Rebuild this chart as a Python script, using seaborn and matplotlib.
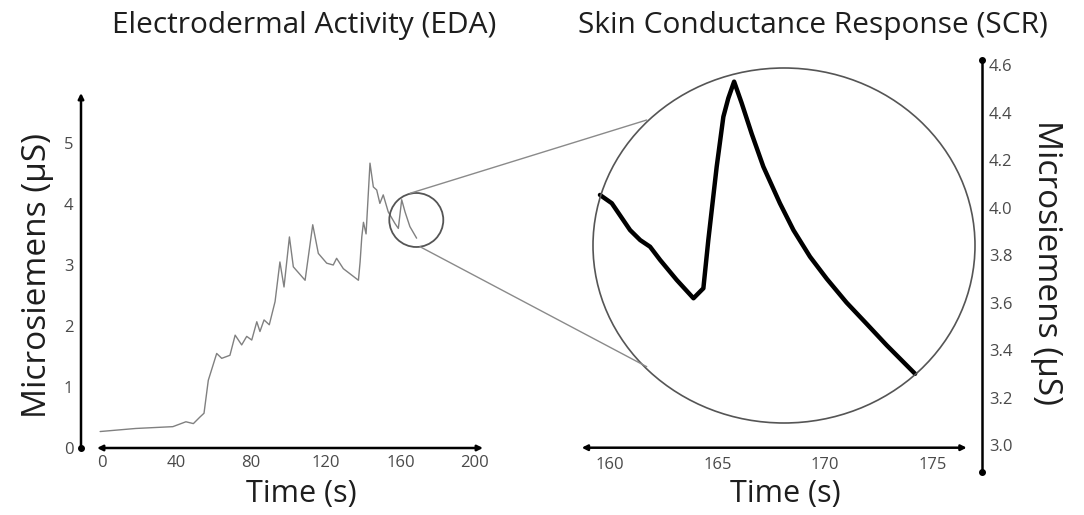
import matplotlib
matplotlib.use("Agg")
import matplotlib.pyplot as plt
import seaborn as sns
import pandas as pd
from matplotlib.patches import Ellipse
from matplotlib.lines import Line2D

# ---------------- data ----------------
eda_time = [-1, 18, 38, 45, 49, 52.6, 54.7, 57, 61.5, 64.2, 68.6, 71.4, 74.9, 77.6,
            80.3, 83, 84.7, 86.9, 89.7, 92.8, 95.4, 97.6, 100.5, 102.6, 108.9, 113,
            116, 120.5, 124, 125.8, 129.4, 137.5, 138.4, 139.3, 140.2, 141.6, 143.7,
            145.5, 147.3, 149, 150.8, 153.5, 157.1, 158.9, 160.7, 162.5, 165.1, 168.7]
eda_value = [0.27, 0.32, 0.35, 0.43, 0.40, 0.51, 0.57, 1.11, 1.55, 1.47, 1.52, 1.85,
             1.69, 1.83, 1.77, 2.07, 1.91, 2.10, 2.02, 2.40, 3.05, 2.64, 3.46, 2.97,
             2.75, 3.66, 3.19, 3.03, 3.00, 3.11, 2.94, 2.75, 3.05, 3.46, 3.70, 3.51,
             4.67, 4.28, 4.23, 4.01, 4.15, 3.87, 3.68, 3.60, 4.07, 3.87, 3.63, 3.44]

scr_time = [159.53, 160.08, 160.93, 161.4, 161.86, 162.33, 163.1, 163.88, 164.34,
            164.57, 164.96, 165.27, 165.5, 165.77, 166.12, 166.59, 167.13, 167.9,
            168.53, 169.3, 170.08, 171.0, 171.94, 172.87, 174.19]
scr_value = [4.053, 4.018, 3.905, 3.863, 3.835, 3.779, 3.695, 3.618, 3.66, 3.863,
             4.172, 4.382, 4.46, 4.53, 4.44, 4.31, 4.172, 4.018, 3.905, 3.793, 3.70,
             3.60, 3.51, 3.42, 3.30]

eda_xticks = [0, 40, 80, 120, 160, 200]
eda_yticks = [0, 1, 2, 3, 4, 5]
scr_xticks = [160, 165, 170, 175]
scr_yticks = [3.0, 3.2, 3.4, 3.6, 3.8, 4.0, 4.2, 4.4, 4.6]

titles = ["Electrodermal Activity (EDA)", "Skin Conductance Response (SCR)"]
xlabel = "Time (s)"
ylabel = "Microsiemens (µS)"

# ---------------- style ----------------
sns.set_theme(style="white")
plt.rcParams["font.family"] = ["Open Sans", "DejaVu Sans"]

W, H = 1084, 515
fig = plt.figure(figsize=(W / 100, H / 100), dpi=100)


def box(x0, y0, x1, y1):
    return [x0 / W, 1 - y1 / H, (x1 - x0) / W, (y1 - y0) / H]


def fx(x):
    return x / W


def fy(y):
    return 1 - y / H


TEXT = "#1e1e1e"
TICK = "#4a4a4a"
TICK_FS = 12

# ---------------- left panel ----------------
ax1 = fig.add_axes(box(97, 93, 483, 448))
df1 = pd.DataFrame({"t": eda_time, "v": eda_value})
sns.lineplot(data=df1, x="t", y="v", ax=ax1, color="#808080", lw=1.0,
             estimator=None, sort=False)
ax1.set_xlim(-2.68, 204.3)
ax1.set_ylim(0, 5.82)
ax1.set_xticks(eda_xticks)
ax1.set_yticks(eda_yticks)
ax1.tick_params(axis="x", length=0, pad=5, labelsize=TICK_FS, labelcolor=TICK)
ax1.tick_params(axis="y", length=0, pad=17, labelsize=TICK_FS, labelcolor=TICK)
ax1.set_xlabel("")
ax1.set_ylabel("")
for s in ax1.spines.values():
    s.set_visible(False)

# axis lines with arrows
ax1.annotate("", xy=(1, 0), xytext=(0, 0), xycoords="axes fraction",
             arrowprops=dict(arrowstyle="<|-|>", lw=1.8, color="black",
                             mutation_scale=8, shrinkA=0, shrinkB=0),
             annotation_clip=False)
yx1 = (81 - 97) / 386
ax1.annotate("", xy=(yx1, 1), xytext=(yx1, 0), xycoords="axes fraction",
             arrowprops=dict(arrowstyle="-|>", lw=1.8, color="black",
                             mutation_scale=8, shrinkA=0, shrinkB=0),
             annotation_clip=False)
ax1.plot([yx1], [0], marker="o", ms=4, color="black", transform=ax1.transAxes,
         clip_on=False)

# ---------------- right panel ----------------
ax2 = fig.add_axes(box(581.7, 60, 966.7, 447.7))
df2 = pd.DataFrame({"t": scr_time, "v": scr_value})
sns.lineplot(data=df2, x="t", y="v", ax=ax2, color="black", lw=3.2,
             estimator=None, sort=False)
ax2.set_xlim(158.68, 176.59)
ax2.set_ylim(2.989, 4.621)
ax2.set_xticks(scr_xticks)
ax2.set_yticks(scr_yticks)
ax2.set_yticklabels([f"{v:.1f}" for v in scr_yticks])
ax2.yaxis.tick_right()
ax2.tick_params(axis="x", length=0, pad=7, labelsize=TICK_FS, labelcolor=TICK)
ax2.tick_params(axis="y", length=0, pad=16, labelsize=TICK_FS, labelcolor=TICK)
ax2.set_xlabel("")
ax2.set_ylabel("")
for s in ax2.spines.values():
    s.set_visible(False)

ax2.annotate("", xy=(1, 0), xytext=(0, 0), xycoords="axes fraction",
             arrowprops=dict(arrowstyle="<|-|>", lw=1.8, color="black",
                             mutation_scale=8, shrinkA=0, shrinkB=0),
             annotation_clip=False)
yx2 = (981.7 - 581.7) / 385
ybot2 = (447.7 - 471.7) / 387.7
ax2.plot([yx2, yx2], [ybot2, 1], color="black", lw=1.8, transform=ax2.transAxes,
         clip_on=False, solid_capstyle="butt")
ax2.plot([yx2, yx2], [ybot2, 1], marker="o", ms=4, lw=0, color="black",
         transform=ax2.transAxes, clip_on=False)

# ---------------- magnifier decorations ----------------
fig.add_artist(Ellipse((fx(784), fy(245.5)), 382 / W, 355 / H, fill=False,
                       ec="#555555", lw=1.2, transform=fig.transFigure))
fig.add_artist(Ellipse((fx(416.3), fy(220)), 54 / W, 54 / H, fill=False,
                       ec="#555555", lw=1.3, transform=fig.transFigure))
fig.add_artist(Line2D([fx(410), fx(646.7)], [fy(193.3), fy(120)], color="#8a8a8a",
                      lw=1.0, transform=fig.transFigure))
fig.add_artist(Line2D([fx(420), fx(646.7)], [fy(246.7), fy(366.7)], color="#8a8a8a",
                      lw=1.0, transform=fig.transFigure))

# ---------------- texts ----------------
fig.text(fx(304), fy(25), titles[0], ha="center", va="center", fontsize=21.5,
         color=TEXT)
fig.text(fx(812.7), fy(25), titles[1], ha="center", va="center", fontsize=21.5,
         color=TEXT)
fig.text(fx(301), fy(494), xlabel, ha="center", va="center", fontsize=22,
         color=TEXT)
fig.text(fx(785), fy(494), xlabel, ha="center", va="center", fontsize=22,
         color=TEXT)
fig.text(fx(38), fy(275), ylabel, ha="center", va="center", fontsize=24,
         rotation=90, color=TEXT)
fig.text(fx(1046), fy(262), ylabel, ha="center", va="center", fontsize=24,
         rotation=-90, color=TEXT)

fig.savefig("out.png", dpi=100, facecolor="white")
